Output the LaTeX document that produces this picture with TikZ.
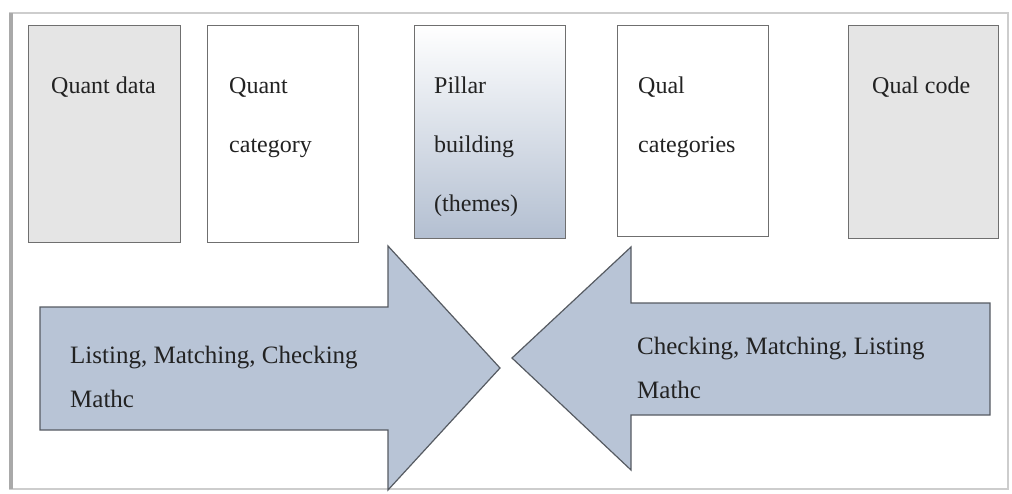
\documentclass[tikz,border=0pt]{standalone}
\usepackage{fontspec}
\setmainfont{Liberation Serif}
\definecolor{boxgrey}{HTML}{E5E5E5}
\definecolor{boxline}{HTML}{6F6F6F}
\definecolor{arrowfill}{HTML}{B8C4D6}
\definecolor{arrowline}{HTML}{565B62}
\definecolor{txt}{HTML}{222222}
\definecolor{pillarbot}{HTML}{B3BFD1}
\definecolor{frameline}{HTML}{CDCDCD}
\definecolor{frameshadow}{HTML}{A9A9A9}
\begin{document}
\begin{tikzpicture}[x=1pt,y=-1pt,
  box/.style={draw=boxline, line width=1.2pt, inner sep=0pt, anchor=north west},
  boxlbl/.style={anchor=base west, inner sep=0pt, align=left, text=txt, font=\fontsize{24}{59}\selectfont},
  arrlbl/.style={anchor=base west, inner sep=0pt, align=left, text=txt, font=\fontsize{25}{44}\selectfont},
  bigarrow/.style={fill=arrowfill, draw=arrowline, line width=1.2pt, line join=miter}]
\useasboundingbox (0,0) rectangle (1012,493);
% outer frame
\draw[frameline, line width=2.5pt] (10,13) rectangle (1008,489);
\draw[frameshadow, line width=4pt] (11,13) -- (11,489);
% boxes
\node[box, fill=boxgrey, minimum width=152pt, minimum height=217pt] (qd) at (28,25) {};
\node[box, fill=white, minimum width=151pt, minimum height=217pt] (qc) at (207,25) {};
\node[box, top color=white, bottom color=pillarbot, minimum width=151pt, minimum height=213pt] (pb) at (414,25) {};
\node[box, fill=white, minimum width=151pt, minimum height=211pt] (ql) at (617,25) {};
\node[box, fill=boxgrey, minimum width=150pt, minimum height=213pt] (qk) at (848,25) {};
% box labels (anchor = baseline of the last line)
\node[boxlbl] (tqd) at ([shift={(23pt,-68pt)}]qd.north west) {Quant data};
\node[boxlbl] (tqc) at ([shift={(22pt,-127pt)}]qc.north west) {Quant\\category};
\node[boxlbl] (tpb) at ([shift={(20pt,-186pt)}]pb.north west) {Pillar\\building\\(themes)};
\node[boxlbl] (tql) at ([shift={(21pt,-127pt)}]ql.north west) {Qual\\categories};
\node[boxlbl] (tqk) at ([shift={(24pt,-68pt)}]qk.north west) {Qual code};
% right-pointing arrow
\coordinate (r1) at (40,307);
\coordinate (r2) at (388,307);
\coordinate (r3) at (388,246);
\coordinate (rt) at (500,368);
\coordinate (r5) at (388,490);
\coordinate (r6) at (388,430);
\coordinate (r7) at (40,430);
\draw[bigarrow] (r1) -- (r2) -- (r3) -- (rt) -- (r5) -- (r6) -- (r7) -- cycle;
% left-pointing arrow
\coordinate (l1) at (990,303);
\coordinate (l2) at (631,303);
\coordinate (l3) at (631,247);
\coordinate (lt) at (512,358);
\coordinate (l5) at (631,470);
\coordinate (l6) at (631,415);
\coordinate (l7) at (990,415);
\draw[bigarrow] (l1) -- (l2) -- (l3) -- (lt) -- (l5) -- (l6) -- (l7) -- cycle;
% arrow labels (anchor = baseline of the last line)
\node[arrlbl] (tra) at (70,407) {Listing, Matching, Checking\\Mathc};
\node[arrlbl] (tla) at (637,398) {Checking, Matching, Listing\\Mathc};
\end{tikzpicture}
\end{document}
